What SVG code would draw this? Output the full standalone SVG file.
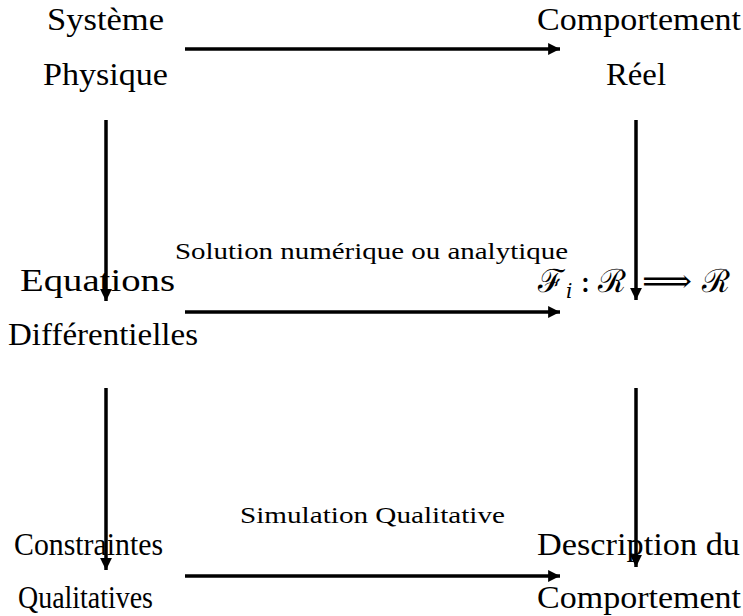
<svg xmlns="http://www.w3.org/2000/svg" width="743" height="616" viewBox="0 0 743 616">
<style>
.t{font-family:"Liberation Serif","Times New Roman",serif;font-size:31px;fill:#000}
.s{font-family:"Liberation Serif","Times New Roman",serif;font-size:23px;fill:#000}
.m{font-family:"DejaVu Serif","Liberation Serif",serif;font-size:32px;fill:#000}
.c{stroke:#000;stroke-width:3.5;fill:none}
</style>
<defs>
<marker id="ah" viewBox="0 0 10 10" refX="10" refY="5" markerWidth="4.5" markerHeight="3.4" orient="auto" markerUnits="strokeWidth">
<path d="M0,0 L10,5 L0,10 Z" fill="#000"/>
</marker>
</defs>
<rect width="743" height="616" fill="#fff"/>
<g id="connectors">
<line class="c" x1="185" y1="49" x2="560" y2="49" marker-end="url(#ah)"/>
<line class="c" x1="185" y1="312" x2="560" y2="312" marker-end="url(#ah)"/>
<line class="c" x1="185" y1="576" x2="560" y2="576" marker-end="url(#ah)"/>
<line class="c" x1="106" y1="120" x2="106" y2="301" marker-end="url(#ah)"/>
<line class="c" x1="636" y1="120" x2="636" y2="300" marker-end="url(#ah)"/>
<line class="c" x1="106" y1="388" x2="106" y2="570" marker-end="url(#ah)"/>
<line class="c" x1="636" y1="388" x2="636" y2="567" marker-end="url(#ah)"/>
<text class="s" x="175" y="259" textLength="393" lengthAdjust="spacingAndGlyphs">Solution numérique ou analytique</text>
<text class="s" x="240" y="523" textLength="265" lengthAdjust="spacingAndGlyphs">Simulation Qualitative</text>
</g>
<g id="systeme">
<text class="t" x="47" y="30" textLength="117" lengthAdjust="spacingAndGlyphs">Système</text>
<text class="t" x="43" y="85" textLength="125" lengthAdjust="spacingAndGlyphs">Physique</text>
</g>
<g id="comportement-reel">
<text class="t" x="537" y="30" textLength="204" lengthAdjust="spacingAndGlyphs">Comportement</text>
<text class="t" x="606" y="85" textLength="60" lengthAdjust="spacingAndGlyphs">Réel</text>
</g>
<g id="equations">
<text class="t" x="20" y="291" textLength="155" lengthAdjust="spacingAndGlyphs">Equations</text>
<text class="t" x="8" y="345" textLength="190" lengthAdjust="spacingAndGlyphs">Différentielles</text>
</g>
<g id="fonction">
<text class="m" y="292"><tspan x="538">ℱ</tspan><tspan x="566" dy="6" font-size="20" font-style="italic">i</tspan><tspan x="580" dy="-6">:</tspan><tspan x="598">ℛ</tspan><tspan x="642" textLength="50" lengthAdjust="spacingAndGlyphs">⟹</tspan><tspan x="702">ℛ</tspan></text>
</g>
<g id="contraintes">
<text class="t" x="14" y="555" textLength="149" lengthAdjust="spacingAndGlyphs">Constraintes</text>
<text class="t" x="18" y="608" textLength="135" lengthAdjust="spacingAndGlyphs">Qualitatives</text>
</g>
<g id="description">
<text class="t" x="537" y="555" textLength="203" lengthAdjust="spacingAndGlyphs">Description du</text>
<text class="t" x="537" y="608" textLength="204" lengthAdjust="spacingAndGlyphs">Comportement</text>
</g>
</svg>
